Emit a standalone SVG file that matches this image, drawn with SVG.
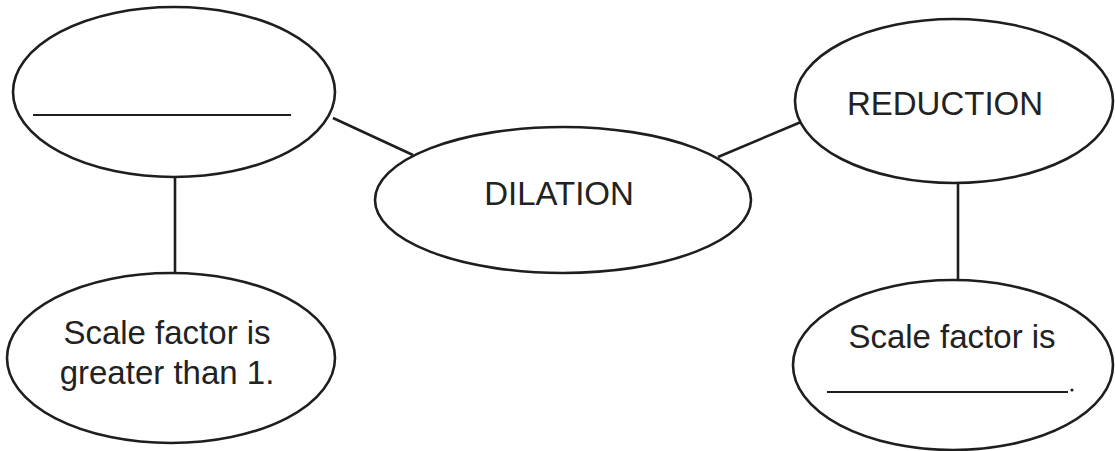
<svg xmlns="http://www.w3.org/2000/svg" width="1115" height="451" viewBox="0 0 1115 451">
<style>
.n{fill:#fff;stroke:#1e1e1e;stroke-width:2.6}
.c{stroke:#1e1e1e;stroke-width:2.6;fill:none}
.b{stroke:#1e1e1e;stroke-width:2;fill:none}
text{font-family:"Liberation Sans",Arial,sans-serif;font-size:33px;fill:#222;text-anchor:middle}
</style>
<rect width="1115" height="451" fill="#fff"/>
<g id="connectors">
<line class="c" x1="333" y1="118" x2="413" y2="155"/>
<line class="c" x1="718" y1="157" x2="801" y2="122"/>
<line class="c" x1="175" y1="177" x2="175" y2="273"/>
<line class="c" x1="958" y1="183" x2="958" y2="279"/>
</g>
<g id="node-blank">
<ellipse class="n" cx="174" cy="92" rx="161" ry="85"/>
<line class="b" x1="33" y1="115" x2="291" y2="115"/>
</g>
<g id="node-dilation">
<ellipse class="n" cx="563" cy="200" rx="188" ry="73"/>
<text x="559" y="205">DILATION</text>
</g>
<g id="node-reduction">
<ellipse class="n" cx="954" cy="101" rx="159" ry="82"/>
<text x="945" y="115">REDUCTION</text>
</g>
<g id="node-greater">
<ellipse class="n" cx="171" cy="358" rx="164" ry="85"/>
<text x="167" y="344">Scale factor is</text>
<text x="167" y="384">greater than 1.</text>
</g>
<g id="node-less">
<ellipse class="n" cx="953" cy="365" rx="160" ry="85"/>
<text x="952" y="348">Scale factor is</text>
<line class="b" x1="827" y1="392" x2="1068" y2="392"/>
<circle cx="1072" cy="390" r="1.6" fill="#222"/>
</g>
</svg>
